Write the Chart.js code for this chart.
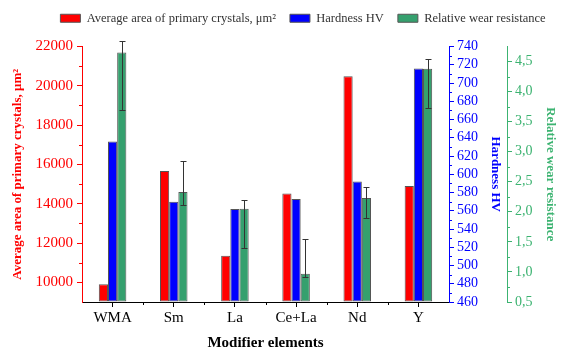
<!DOCTYPE html>
<html>
<head>
<meta charset="utf-8">
<script src="https://cdn.jsdelivr.net/npm/chart.js@4"></script>
<style>
  html, body { margin: 0; padding: 0; background: #fff; }
  canvas { display: block; }
</style>
</head>
<body>
<canvas id="chart" width="564" height="356"></canvas>
<script>
// Data
const categories = ['WMA', 'Sm', 'La', 'Ce+La', 'Nd', 'Y'];
const crystalArea = [9900, 15670, 11350, 14520, 20480, 14900];
const hardness = [636, 570, 562, 573, 592, 716];
const wearResistance = [4.65, 2.33, 2.05, 0.97, 2.23, 4.38];
const wearErrLow = [3.70, 2.12, 1.39, 0.92, 1.90, 3.73];
const wearErrHigh = [4.84, 2.85, 2.19, 1.55, 2.42, 4.55];

const RED = '#ff0000';
const BLUE = '#0000ff';
const GREEN = '#35a06e';
const GREEN_AXIS = '#3cb371';
const FONT = "'Liberation Serif', 'Times New Roman', serif";
const CLEAR = 'rgba(0,0,0,0)';

const isMult = (v, step) => Math.abs(v / step - Math.round(v / step)) < 1e-6;

// short minor ticks halfway between labelled ticks
const minorTicks = {
    id: 'minorTicks',
    afterDraw(chart) {
        const c = chart.ctx;
        c.save();
        c.lineWidth = 1;
        ['y', 'yHard', 'yWear'].forEach(id => {
            const s = chart.scales[id];
            const labelled = s.ticks.filter(t => t.label !== '');
            const x = s.position === 'left' ? s.right : s.left;
            const dir = s.position === 'left' ? -1 : 1;
            c.strokeStyle = s.options.border.color;
            for (let i = 0; i < labelled.length - 1; i++) {
                const v = (labelled[i].value + labelled[i + 1].value) / 2;
                const py = Math.round(s.getPixelForValue(v)) + 0.5;
                c.beginPath();
                c.moveTo(x, py);
                c.lineTo(x + dir * 3, py);
                c.stroke();
            }
        });
        const xs = chart.scales.x;
        c.strokeStyle = '#000';
        for (let i = 0; i < categories.length - 1; i++) {
            const px = Math.round((xs.getPixelForValue(i) + xs.getPixelForValue(i + 1)) / 2) + 0.5;
            c.beginPath();
            c.moveTo(px, xs.top);
            c.lineTo(px, xs.top + 3);
            c.stroke();
        }
        c.restore();
    }
};

// asymmetric error bars on the wear resistance bars
const errorBars = {
    id: 'errorBars',
    afterDatasetsDraw(chart) {
        const c = chart.ctx;
        const meta = chart.getDatasetMeta(2);
        const s = chart.scales.yWear;
        c.save();
        c.strokeStyle = '#333';
        c.lineWidth = 1;
        meta.data.forEach((bar, i) => {
            const x = Math.round(bar.x) + 0.5;
            const yHi = Math.round(s.getPixelForValue(wearErrHigh[i])) + 0.5;
            const yLo = Math.round(s.getPixelForValue(wearErrLow[i])) + 0.5;
            c.beginPath();
            c.moveTo(x, yHi); c.lineTo(x, yLo);
            c.moveTo(x - 3, yHi); c.lineTo(x + 3, yHi);
            c.moveTo(x - 3, yLo); c.lineTo(x + 3, yLo);
            c.stroke();
        });
        c.restore();
    }
};

// nudge the legend row to where it sits in the figure
const legendShift = {
    id: 'legendShift',
    afterLayout(chart) {
        const l = chart.legend;
        l.left += 21; l.right += 21;
        l.top -= 12; l.bottom -= 12;
    }
};

const barStyle = { borderColor: '#555', borderWidth: 1, borderSkipped: false };

new Chart(document.getElementById('chart'), {
    type: 'bar',
    data: {
        labels: categories,
        datasets: [
            { label: 'Average area of primary crystals, μm²', data: crystalArea, backgroundColor: RED, yAxisID: 'y', base: 9000, ...barStyle },
            { label: 'Hardness HV', data: hardness, backgroundColor: BLUE, yAxisID: 'yHard', base: 460, ...barStyle },
            { label: 'Relative wear resistance', data: wearResistance, backgroundColor: GREEN, yAxisID: 'yWear', base: 0.5, ...barStyle }
        ]
    },
    options: {
        responsive: false,
        animation: false,
        categoryPercentage: 0.45,
        barPercentage: 1,
        layout: { padding: { top: 10, right: 0, bottom: 0, left: 0 } },
        plugins: {
            legend: {
                labels: {
                    font: { family: FONT, size: 12.5 },
                    color: '#333',
                    boxWidth: 20,
                    boxHeight: 8,
                    padding: 14
                }
            },
            tooltip: { enabled: false }
        },
        scales: {
            x: {
                grid: { display: true, drawOnChartArea: false, offset: false, tickLength: 5, tickColor: '#000' },
                border: { color: '#000', width: 1 },
                ticks: { color: '#000', font: { family: FONT, size: 15 }, padding: 2 },
                title: { display: true, text: 'Modifier elements', color: '#000', font: { family: FONT, size: 15, weight: 'bold' }, padding: { top: 4 } },
                afterFit(s) { s.height = 54; }
            },
            y: {
                position: 'left',
                min: 9000,
                max: 22000,
                grid: {
                    drawOnChartArea: false, tickLength: 5,
                    tickColor: ctx => (ctx.tick && ctx.tick.value >= 10000 && isMult(ctx.tick.value, 2000)) ? RED : CLEAR
                },
                border: { color: RED, width: 1 },
                ticks: {
                    stepSize: 1000, color: RED, font: { family: FONT, size: 15 }, padding: 4, autoSkip: false,
                    callback: v => (v >= 10000 && isMult(v, 2000)) ? String(v) : ''
                },
                title: { display: true, text: 'Average area of primary crystals, μm²', color: RED, font: { family: FONT, size: 13, weight: 'bold' }, padding: { top: 10, bottom: 2 } },
                afterFit(s) { s.width = 82; }
            },
            yHard: {
                position: 'right',
                weight: 0,
                min: 460,
                max: 740,
                grid: { drawOnChartArea: false, tickLength: 5, tickColor: BLUE },
                border: { color: BLUE, width: 1 },
                ticks: { stepSize: 20, color: BLUE, font: { family: FONT, size: 14 }, padding: 3, autoSkip: false },
                title: { display: true, text: 'Hardness HV', color: BLUE, font: { family: FONT, size: 13, weight: 'bold' }, padding: 4 },
                afterFit(s) { s.width = 58; }
            },
            yWear: {
                position: 'right',
                weight: 1,
                min: 0.5,
                max: 4.75,
                grid: {
                    drawOnChartArea: false, tickLength: 5,
                    tickColor: ctx => (ctx.tick && isMult(ctx.tick.value, 0.5)) ? GREEN_AXIS : CLEAR
                },
                border: { color: GREEN_AXIS, width: 1 },
                ticks: {
                    stepSize: 0.25, color: GREEN_AXIS, font: { family: FONT, size: 14 }, padding: 3, autoSkip: false,
                    callback: v => isMult(v, 0.5) ? v.toFixed(1).replace('.', ',') : ''
                },
                title: { display: true, text: 'Relative wear resistance', color: GREEN_AXIS, font: { family: FONT, size: 13, weight: 'bold' }, padding: 6 },
                afterFit(s) { s.width = 57; }
            }
        }
    },
    plugins: [errorBars, minorTicks, legendShift]
});
</script>
</body>
</html>
